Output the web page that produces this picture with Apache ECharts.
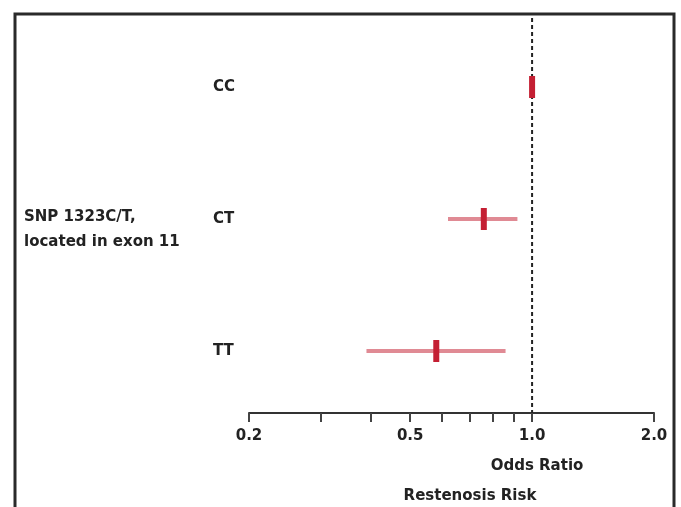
<!DOCTYPE html>
<html>
<head>
<meta charset="utf-8">
<script src="https://cdn.jsdelivr.net/npm/echarts@6/dist/echarts.min.js"></script>
<style>html,body{margin:0;padding:0;background:#fff}#c{width:681px;height:507px}</style>
</head>
<body>
<div id="c"></div>
<script>
var categories = ['CC', 'CT', 'TT'];
var oddsRatio = [1.0, 0.76, 0.58];
var ciLower = [null, 0.62, 0.39];
var ciUpper = [null, 0.92, 0.86];
var tickValues = [0.2, 0.3, 0.4, 0.5, 0.6, 0.7, 0.8, 0.9, 1.0, 2.0];
var labelValues = [0.2, 0.5, 1.0, 2.0];
var referenceValue = 1.0;

var data = categories.map(function (c, i) {
  return [oddsRatio[i], ciLower[i] == null ? oddsRatio[i] : ciLower[i], ciUpper[i] == null ? oddsRatio[i] : ciUpper[i], c];
});

var AXIS_OFFSET = -4;
var chart = echarts.init(document.getElementById('c'), null, {renderer: 'canvas'});
var FONT = '"DejaVu Sans", sans-serif';
chart.setOption({
  animation: false,
  backgroundColor: '#fff',
  grid: {left: 249, right: 27, top: 21, bottom: 90},
  xAxis: {
    type: 'log', logBase: 10, min: 0.2, max: 2.0, offset: AXIS_OFFSET,
    axisLine: {show: true, lineStyle: {color: '#333', width: 2}},
    axisTick: {show: true, length: 9, customValues: tickValues, lineStyle: {color: '#444', width: 2}},
    axisLabel: {
      customValues: labelValues, margin: 16,
      fontFamily: FONT, fontWeight: 'bold', fontSize: 15, color: '#222',
      formatter: function (v) { return Number(v).toFixed(1); }
    },
    splitLine: {show: false},
    minorTick: {show: false}
  },
  yAxis: {
    type: 'category', inverse: true, data: categories,
    axisLine: {show: false}, axisTick: {show: false},
    axisLabel: {align: 'left', margin: 36, fontFamily: FONT, fontWeight: 'bold', fontSize: 15, color: '#222'}
  },
  series: [{
    type: 'custom',
    data: [[referenceValue]],
    encode: {x: 0},
    renderItem: function (params, api) {
      var cs = params.coordSys;
      var x = api.coord([api.value(0), categories[0]])[0];
      return {type: 'line', shape: {x1: x, y1: cs.y - 3, x2: x, y2: cs.y + cs.height + AXIS_OFFSET},
        style: {stroke: '#222', lineWidth: 2, lineDash: [4, 3]}};
    },
    z: 2
  }, {
    type: 'custom',
    dimensions: ['or', 'lo', 'hi', 'cat'],
    encode: {x: ['or', 'lo', 'hi'], y: 'cat'},
    data: data,
    renderItem: function (params, api) {
      var est = api.coord([api.value(0), api.value(3)]);
      var lo = api.coord([api.value(1), api.value(3)]);
      var hi = api.coord([api.value(2), api.value(3)]);
      var children = [];
      if (hi[0] - lo[0] > 1) {
        children.push({type: 'line', shape: {x1: lo[0], y1: lo[1], x2: hi[0], y2: hi[1]},
          style: {stroke: '#e08a94', lineWidth: 4}});
      }
      children.push({type: 'rect', shape: {x: est[0] - 3, y: est[1] - 11, width: 6, height: 22},
        style: {fill: '#c41f33'}});
      return {type: 'group', children: children};
    },
    z: 3
  }],
  graphic: [
    {type: 'rect', shape: {x: 15, y: 14, width: 659, height: 510}, style: {fill: 'none', stroke: '#2a2a2a', lineWidth: 3}, silent: true},
    {type: 'text', left: 24, top: 205, style: {text: 'SNP 1323C/T,\nlocated in exon 11', font: 'bold 15px ' + FONT, fill: '#222', lineHeight: 25}},
    {type: 'text', x: 537, y: 466, style: {text: 'Odds Ratio', font: 'bold 15px ' + FONT, fill: '#222', align: 'center', verticalAlign: 'middle'}},
    {type: 'text', x: 470, y: 496, style: {text: 'Restenosis Risk', font: 'bold 15px ' + FONT, fill: '#222', align: 'center', verticalAlign: 'middle'}}
  ]
});
</script>
</body>
</html>
